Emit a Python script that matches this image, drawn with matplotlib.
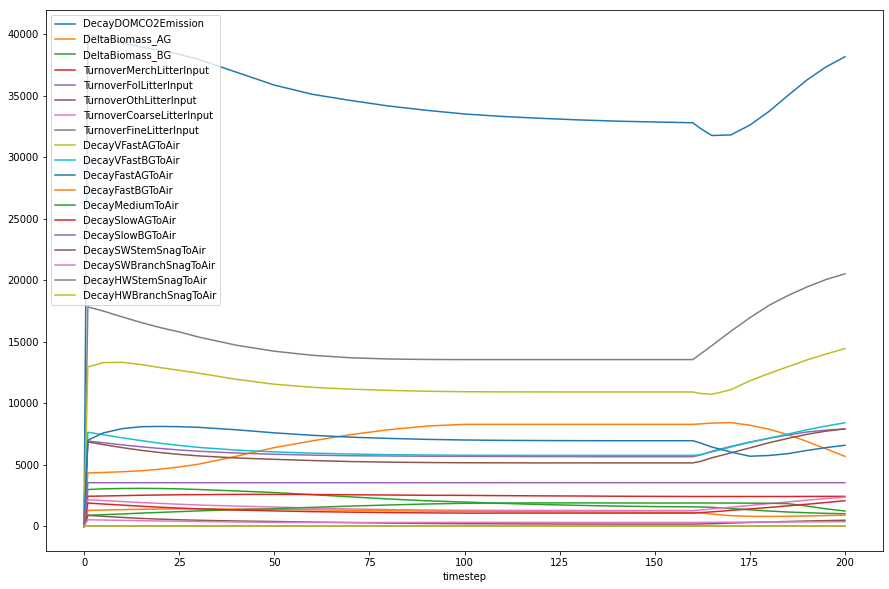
import matplotlib
matplotlib.use("Agg")
import matplotlib.pyplot as plt

timestep = [0, 1, 5, 10, 15, 20, 25, 30, 40, 50, 60, 70, 80, 90, 100, 110, 120, 130,
            140, 150, 160, 162, 165, 170, 175, 180, 185, 190, 195, 200]

DecayDOMCO2Emission = [0, 39950, 39700, 39300, 38950, 38650, 38350, 37950, 36900, 35850, 35100,
                       34600, 34150, 33800, 33500, 33300, 33150, 33020, 32920, 32850, 32790,
                       32330, 31750, 31800, 32600, 33700, 35000, 36260, 37320, 38150]
DeltaBiomass_AG = [0, 4340, 4380, 4440, 4520, 4650, 4830, 5050, 5700, 6400, 6950, 7450, 7850,
                   8150, 8290, 8290, 8290, 8290, 8290, 8290, 8290, 8330, 8390, 8430, 8220,
                   7900, 7450, 6900, 6300, 5690]
DeltaBiomass_BG = [0, 3000, 3050, 3080, 3090, 3080, 3050, 3000, 2880, 2750, 2580, 2400, 2230,
                   2080, 1980, 1870, 1780, 1710, 1650, 1610, 1590, 1580, 1550, 1450, 1350,
                   1250, 1170, 1110, 1060, 1030]
TurnoverMerchLitterInput = [0, 2450, 2470, 2500, 2530, 2550, 2570, 2580, 2600, 2600, 2590, 2570,
                            2550, 2530, 2520, 2500, 2480, 2470, 2450, 2440, 2430, 2430, 2430,
                            2430, 2430, 2430, 2430, 2435, 2440, 2440]
TurnoverFolLitterInput = [0, 6940, 6800, 6620, 6470, 6330, 6210, 6110, 5960, 5860, 5790, 5740,
                          5720, 5700, 5690, 5680, 5670, 5665, 5660, 5660, 5660, 5800, 6100,
                          6500, 6850, 7150, 7430, 7670, 7820, 7920]
TurnoverOthLitterInput = [0, 6860, 6650, 6400, 6180, 6000, 5850, 5730, 5560, 5450, 5350, 5270,
                          5220, 5190, 5170, 5165, 5160, 5160, 5160, 5160, 5160, 5280, 5570,
                          5970, 6380, 6790, 7150, 7480, 7740, 7920]
TurnoverCoarseLitterInput = [0, 2170, 2100, 2020, 1940, 1870, 1800, 1740, 1650, 1580, 1480, 1420,
                             1370, 1330, 1310, 1300, 1300, 1295, 1290, 1290, 1290, 1330, 1420,
                             1560, 1700, 1850, 1990, 2130, 2260, 2380]
TurnoverFineLitterInput = [0, 17830, 17500, 17020, 16560, 16150, 15800, 15390, 14720, 14230,
                           13900, 13700, 13600, 13560, 13550, 13550, 13550, 13550, 13550, 13550,
                           13550, 14000, 14680, 15850, 16950, 17950, 18750, 19450, 20050, 20520]
DecayVFastAGToAir = [0, 12950, 13300, 13330, 13150, 12900, 12680, 12450, 11950, 11550, 11300,
                     11150, 11050, 10980, 10940, 10930, 10925, 10920, 10920, 10920, 10920, 10800,
                     10730, 11100, 11830, 12420, 12970, 13520, 14000, 14450]
DecayVFastBGToAir = [0, 7650, 7450, 7200, 6970, 6750, 6580, 6420, 6200, 6050, 5950, 5880, 5830,
                     5800, 5780, 5775, 5770, 5770, 5770, 5770, 5770, 5830, 6050, 6450, 6830,
                     7170, 7500, 7850, 8150, 8420]
DecayFastAGToAir = [0, 7000, 7590, 7940, 8100, 8120, 8100, 8050, 7850, 7600, 7400, 7250, 7150,
                    7070, 7020, 6990, 6975, 6965, 6960, 6960, 6960, 6780, 6450, 6040, 5700,
                    5760, 5910, 6170, 6400, 6590]
DecayFastBGToAir = [0, 1300, 1330, 1360, 1390, 1410, 1420, 1420, 1410, 1390, 1350, 1310, 1270,
                    1240, 1220, 1200, 1190, 1180, 1170, 1160, 1150, 1100, 1000, 870, 820, 810,
                    820, 850, 880, 920]
DecayMediumToAir = [0, 900, 950, 1010, 1080, 1140, 1200, 1260, 1360, 1440, 1550, 1650, 1740,
                    1820, 1880, 1900, 1910, 1910, 1905, 1900, 1900, 1900, 1900, 1895, 1890,
                    1880, 1850, 1650, 1430, 1250]
DecaySlowAGToAir = [0, 1900, 1820, 1730, 1640, 1560, 1490, 1430, 1330, 1260, 1200, 1160, 1120,
                    1100, 1080, 1080, 1080, 1080, 1080, 1080, 1080, 1120, 1180, 1300, 1420,
                    1540, 1670, 1800, 1940, 2090]
DecaySlowBGToAir = [0, 3550, 3550, 3550, 3550, 3550, 3550, 3550, 3550, 3550, 3550, 3550, 3550,
                    3550, 3550, 3550, 3550, 3550, 3550, 3550, 3550, 3550, 3550, 3550, 3550,
                    3550, 3550, 3550, 3550, 3550]
DecaySWStemSnagToAir = [0, 900, 820, 730, 650, 590, 540, 500, 440, 400, 350, 310, 270, 240, 220,
                        210, 200, 195, 190, 190, 190, 200, 220, 270, 320, 360, 400, 440, 470, 500]
DecaySWBranchSnagToAir = [0, 540, 520, 490, 465, 440, 420, 400, 360, 330, 320, 320, 320, 325,
                          330, 330, 330, 325, 320, 320, 320, 325, 330, 340, 350, 355, 360, 370,
                          375, 380]
DecayHWStemSnagToAir = [0, 0, 0, 0, 0, 0, 0, 0, 0, 0, 0, 0, 0, 0, 0, 0, 0, 0, 0, 0, 0, 0, 0, 0,
                        0, 0, 0, 0, 0, 0]
DecayHWBranchSnagToAir = [0, 0, 0, 0, 0, 0, 0, 0, 0, 0, 0, 0, 0, 0, 0, 0, 0, 0, 0, 0, 0, 0, 0,
                          0, 0, 0, 0, 0, 0, 0]

series = [
    ("DecayDOMCO2Emission", DecayDOMCO2Emission),
    ("DeltaBiomass_AG", DeltaBiomass_AG),
    ("DeltaBiomass_BG", DeltaBiomass_BG),
    ("TurnoverMerchLitterInput", TurnoverMerchLitterInput),
    ("TurnoverFolLitterInput", TurnoverFolLitterInput),
    ("TurnoverOthLitterInput", TurnoverOthLitterInput),
    ("TurnoverCoarseLitterInput", TurnoverCoarseLitterInput),
    ("TurnoverFineLitterInput", TurnoverFineLitterInput),
    ("DecayVFastAGToAir", DecayVFastAGToAir),
    ("DecayVFastBGToAir", DecayVFastBGToAir),
    ("DecayFastAGToAir", DecayFastAGToAir),
    ("DecayFastBGToAir", DecayFastBGToAir),
    ("DecayMediumToAir", DecayMediumToAir),
    ("DecaySlowAGToAir", DecaySlowAGToAir),
    ("DecaySlowBGToAir", DecaySlowBGToAir),
    ("DecaySWStemSnagToAir", DecaySWStemSnagToAir),
    ("DecaySWBranchSnagToAir", DecaySWBranchSnagToAir),
    ("DecayHWStemSnagToAir", DecayHWStemSnagToAir),
    ("DecayHWBranchSnagToAir", DecayHWBranchSnagToAir),
]

W, H = 889, 589
fig = plt.figure(figsize=(W / 72, H / 72), dpi=72)
ax = fig.add_axes([46 / W, 38 / H, 837 / W, 541 / H])
for name, vals in series:
    ax.plot(timestep, vals, label=name, lw=1.5)
ax.set_xlabel("timestep")
ax.legend(loc="upper left")
fig.savefig("out.png", dpi=72)
